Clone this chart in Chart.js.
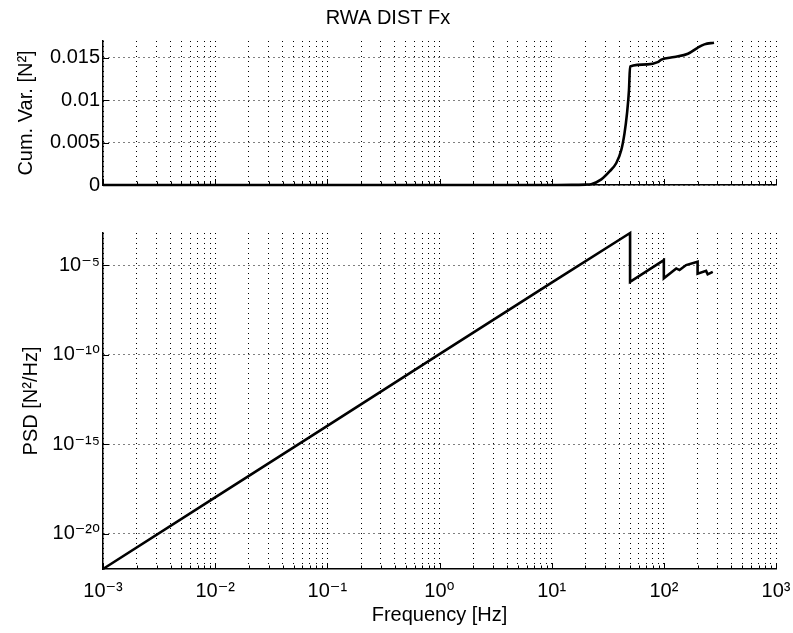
<!DOCTYPE html>
<html><head><meta charset="utf-8">
<script src="https://cdn.jsdelivr.net/npm/chart.js@4"></script>
<style>
html,body{margin:0;padding:0;background:#fff;}
#wrap{position:relative;width:793px;height:633px;overflow:hidden;background:#fff;}
canvas{position:absolute;left:0;}
</style></head><body>
<div id="wrap">
<canvas id="c1" width="793" height="200" style="top:0"></canvas>
<canvas id="c2" width="793" height="433" style="top:200px"></canvas>
</div>
<script>
// ---- data ----
const chartTitle = 'RWA DIST Fx';
const xAxisTitle = 'Frequency [Hz]';
const cumTitle = 'Cum. Var. [N²]';
const psdTitle = 'PSD [N²/Hz]';

const cumFreq = [0.001, 10, 15, 20, 22.5, 27.7, 32.8, 37.7, 41.7, 44.6, 46.9, 48.9, 50, 72, 88, 95, 124, 164, 200, 230, 280];
const cumVar  = [0, 0, 0.00001, 0.00005, 0.0001, 0.00067, 0.0016, 0.0026, 0.0041, 0.0061, 0.0084, 0.0112, 0.0140, 0.01424, 0.0145, 0.0148, 0.0151, 0.0155, 0.0162, 0.0166, 0.0168];

const psdFreq = [0.001, 0.01, 0.1, 1, 10, 50, 50, 100, 100, 129, 138, 158, 200, 200, 238, 246, 273];
const psdVal  = [1.1e-22, 1.1e-18, 1.1e-14, 1.1e-10, 1.1e-6, 6.5e-4, 1.2e-6, 2.0e-5, 1.9e-6, 6.8e-6, 5.5e-6, 1.05e-5, 1.6e-5, 3.5e-6, 5.0e-6, 3.2e-6, 4.4e-6];

const xDecades = [1e-3, 1e-2, 1e-1, 1, 10, 100, 1000];
const xDecadeLabels = ['10⁻³', '10⁻²', '10⁻¹', '10⁰', '10¹', '10²', '10³'];
const cumTicks = [0, 0.005, 0.01, 0.015];
const cumTickLabels = ['0', '0.005', '0.01', '0.015'];
const psdTicks = [1e-20, 1e-15, 1e-10, 1e-5];
const psdTickLabels = ['10⁻²⁰', '10⁻¹⁵', '10⁻¹⁰', '10⁻⁵'];

// ---- helpers ----
const xGridValues = [];
xDecades.forEach((d, i) => {
  if (i < xDecades.length - 1) { for (let k = 1; k <= 9; k++) xGridValues.push(k * d); }
  else xGridValues.push(d);
});
const same = (a, b) => Math.abs(a / b - 1) < 1e-9;
const idxIn = (arr, v) => arr.findIndex(d => (d === 0 ? v === 0 : same(v, d)));

const FONT = "'Liberation Sans', Arial, 'DejaVu Sans', sans-serif";
Chart.defaults.font.family = FONT;
Chart.defaults.font.size = 20;
Chart.defaults.color = '#000';

const gridColor = '#000';

const inwardTicks = {
  id: 'inwardTicks',
  afterDraw(chart) {
    const {ctx, chartArea: a, scales: {x, y}} = chart;
    ctx.save();
    ctx.strokeStyle = '#000';
    ctx.lineWidth = 1;
    ctx.beginPath();
    x.ticks.forEach(t => {
      const px = Math.round(x.getPixelForValue(t.value)) + 0.5;
      const len = idxIn(xDecades, t.value) >= 0 ? 6 : 3.5;
      ctx.moveTo(px, a.bottom);
      ctx.lineTo(px, a.bottom - len);
    });
    y.ticks.forEach(t => {
      const py = Math.round(y.getPixelForValue(t.value)) + 0.5;
      ctx.moveTo(a.left, py);
      ctx.lineTo(a.left + 6, py);
    });
    ctx.stroke();
    ctx.restore();
  }
};

function xScale(showLabels, height) {
  return {
    type: 'logarithmic',
    min: 1e-3, max: 1e3,
    afterBuildTicks: s => { s.ticks = xGridValues.map(v => ({value: v})); },
    afterFit: s => { s.paddingLeft = 0; s.paddingRight = 0; s.height = height; },
    grid: { color: gridColor, lineWidth: 1, drawTicks: false },
    border: { display: true, color: '#000', width: 1.5, dash: [1, 4] },
    ticks: {
      display: showLabels, autoSkip: false, maxRotation: 0, minRotation: 0, padding: 10,
      color: '#000', font: { size: 20 },
      callback: v => { const i = idxIn(xDecades, v); return i >= 0 ? xDecadeLabels[i] : ''; }
    },
    title: showLabels
      ? { display: true, text: xAxisTitle, color: '#000', font: { size: 20 }, padding: { top: 0, bottom: 6 } }
      : { display: false }
  };
}

function yAfterFit(s) { s.width = 103; s.paddingTop = 0; s.paddingBottom = 0; }

// ---- top chart: cumulative variance ----
new Chart(document.getElementById('c1'), {
  type: 'line',
  data: {
    datasets: [{
      data: cumFreq.map((f, i) => ({x: f, y: cumVar[i]})),
      borderColor: '#000', borderWidth: 2.6, pointRadius: 0, fill: false,
      cubicInterpolationMode: 'monotone', clip: false
    }]
  },
  options: {
    responsive: false, animation: false, devicePixelRatio: 1,
    layout: { padding: { left: 0, right: 17, top: 0, bottom: 0 } },
    plugins: {
      legend: { display: false }, tooltip: { enabled: false },
      title: { display: true, text: chartTitle, color: '#000', font: { size: 20, weight: 'normal' }, padding: { top: 6, bottom: 11 } }
    },
    scales: {
      x: xScale(false, 15),
      y: {
        type: 'linear', min: 0, max: 0.017,
        afterBuildTicks: s => { s.ticks = cumTicks.map(v => ({value: v})); },
        afterFit: yAfterFit,
        grid: { color: gridColor, lineWidth: 1, drawTicks: false },
        border: { display: true, color: '#000', width: 1.5, dash: [1, 4] },
        ticks: { padding: 3, color: '#000', font: { size: 20 },
          callback: v => { const i = idxIn(cumTicks, v); return i >= 0 ? cumTickLabels[i] : ''; } },
        title: { display: true, text: cumTitle, color: '#000', font: { size: 20 }, padding: { top: 14, bottom: 0 } }
      }
    }
  },
  plugins: [inwardTicks]
});

// ---- bottom chart: PSD ----
new Chart(document.getElementById('c2'), {
  type: 'line',
  data: {
    datasets: [{
      data: psdFreq.map((f, i) => ({x: f, y: psdVal[i]})),
      borderColor: '#000', borderWidth: 2.6, pointRadius: 0, fill: false,
      tension: 0, clip: false
    }]
  },
  options: {
    responsive: false, animation: false, devicePixelRatio: 1,
    layout: { padding: { left: 0, right: 17, top: 33, bottom: 0 } },
    plugins: { legend: { display: false }, tooltip: { enabled: false } },
    scales: {
      x: xScale(true, 64),
      y: {
        type: 'logarithmic', min: 1.1e-22, max: 6.5e-4,
        afterBuildTicks: s => { s.ticks = psdTicks.map(v => ({value: v})); },
        afterFit: yAfterFit,
        grid: { color: gridColor, lineWidth: 1, drawTicks: false },
        border: { display: true, color: '#000', width: 1.5, dash: [1, 4] },
        ticks: { padding: 3, autoSkip: false, color: '#000', font: { size: 20 },
          callback: v => { const i = idxIn(psdTicks, v); return i >= 0 ? psdTickLabels[i] : ''; } },
        title: { display: true, text: psdTitle, color: '#000', font: { size: 20 }, padding: { top: 19, bottom: 0 } }
      }
    }
  },
  plugins: [inwardTicks]
});
</script>
</body></html>
